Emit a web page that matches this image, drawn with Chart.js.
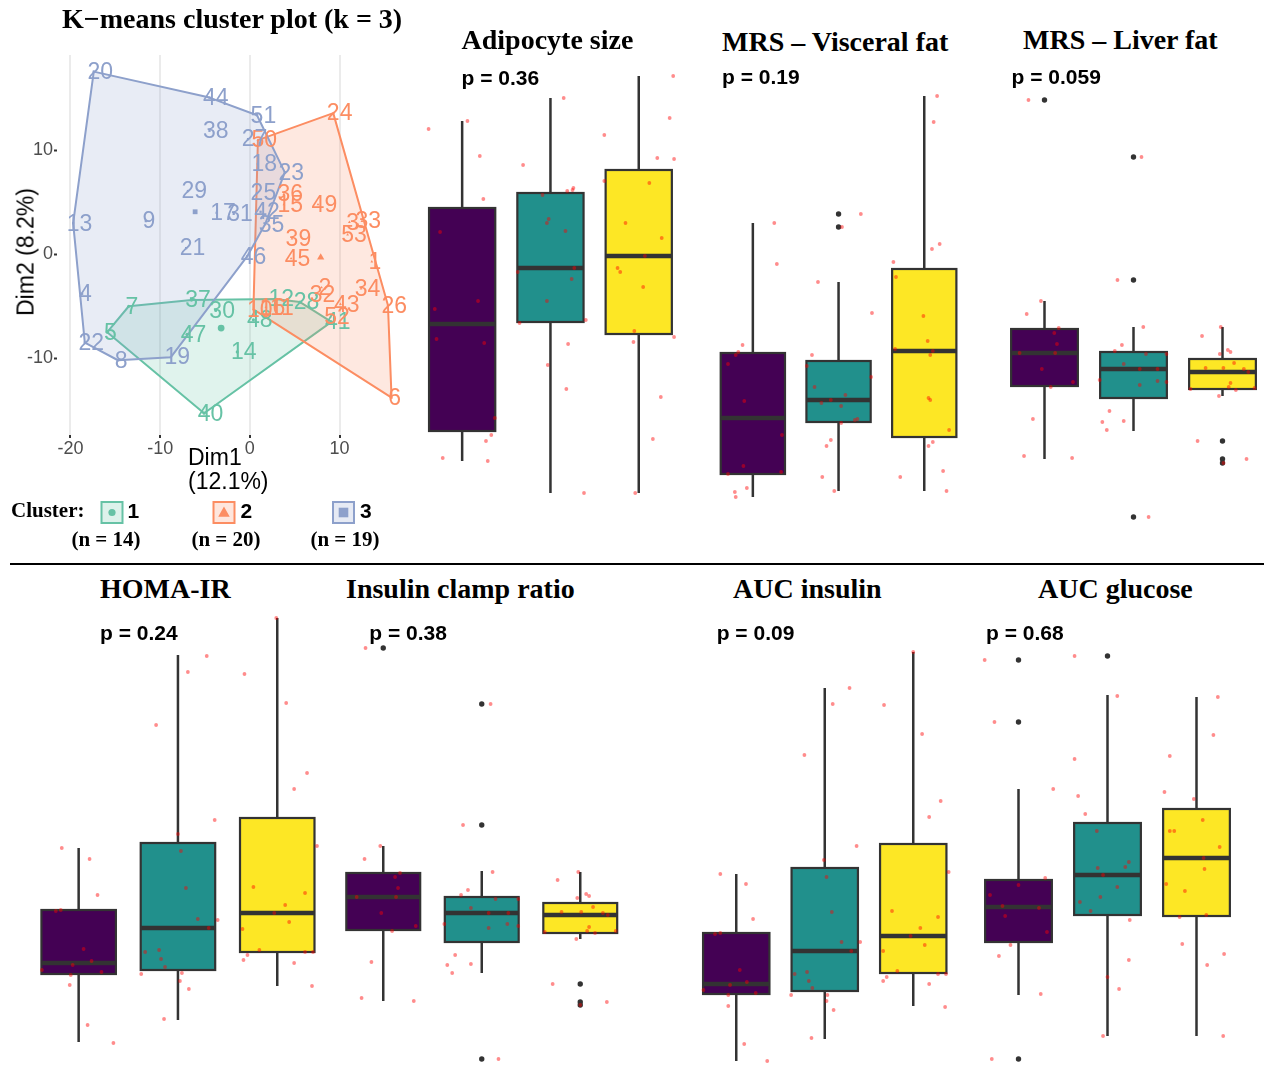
<!DOCTYPE html>
<html>
<head>
<meta charset="utf-8">
<title>K-means clusters and phenotypes</title>
<script src="https://cdn.jsdelivr.net/npm/chart.js@4.4.0/dist/chart.umd.min.js"></script>
<style>
html, body { margin: 0; padding: 0; background: #fff; }
body { position: relative; width: 1264px; height: 1082px; overflow: hidden; }
canvas { position: absolute; }
.t { position: absolute; white-space: nowrap; line-height: 1; color: #000; z-index: 2; }
.serif { font-family: "Liberation Serif", "Times New Roman", serif; font-weight: bold; }
.sans { font-family: "Liberation Sans", Arial, Helvetica, sans-serif; }
.sansb { font-family: "Liberation Sans", Arial, Helvetica, sans-serif; font-weight: bold; }
#rule { position: absolute; left: 10px; top: 563px; width: 1254px; height: 2px; background: #000; }
</style>
</head>
<body>
<div id="rule"></div>
<script>
// ---------- K-means cluster plot (Dim1 / Dim2) ----------
const clusterNames = ['1', '2', '3'];
const clusterSizes = [14, 20, 19];
const clusterColors = ['#66C2A5', '#FC8D62', '#8DA0CB'];
const clusterShapes = ['circle', 'triangle', 'rect'];

const c1Labels = ['7', '5', '37', '30', '47', '14', '40', '48', '12', '28', '41'];
const c1X = [-13.5, -15.9, -6.5, -3.8, -7.0, -1.4, -5.1, 0.4, 2.8, 5.6, 9.1];
const c1Y = [-5.0, -7.5, -4.4, -5.4, -7.7, -9.4, -15.3, -6.3, -4.3, -4.6, -6.5];

const c2Labels = ['24', '50', '36', '15', '49', '3', '33', '53', '39', '45', '1', '34', '2', '32', '43', '26', '6', '52', '10', '11', '16'];
const c2X = [9.3, 0.9, 3.8, 3.8, 7.6, 11.1, 12.5, 10.9, 4.7, 4.6, 13.6, 12.4, 8.0, 7.4, 10.1, 15.4, 15.8, 9.0, 0.4, 2.9, 1.8];
const c2Y = [13.6, 11.0, 5.8, 4.8, 4.8, 3.1, 3.2, 1.9, 1.5, -0.4, -0.7, -3.3, -3.2, -3.9, -4.8, -4.9, -13.8, -6.0, -5.3, -5.1, -5.1];

const c3Labels = ['20', '44', '38', '51', '27', '18', '23', '29', '25', '17', '31', '42', '13', '9', '35', '21', '46', '4', '22', '8', '19'];
const c3X = [-17.4, -4.5, -4.5, 0.8, -0.2, 0.9, 3.9, -6.9, 0.8, -3.7, -1.8, 1.2, -19.7, -11.6, 1.7, -7.1, -0.3, -18.7, -18.4, -14.7, -8.8];
const c3Y = [17.6, 15.1, 11.9, 13.4, 11.1, 8.7, 7.9, 6.1, 5.9, 4.0, 3.9, 4.1, 3.0, 3.2, 2.9, 0.6, -0.2, -3.8, -8.5, -10.2, -9.9];

const centroidX = [-3.2, 7.9, -6.1];
const centroidY = [-7.1, -0.3, 4.1];

const dim1Ticks = [-20, -10, 0, 10];
const dim1TickLabels = ['-20', '-10', '0', '10'];
const dim2Ticks = [-10, 0, 10];
const dim2TickLabels = ['-10', '0', '10'];

// ---------- box plots (arbitrary units, groups 1..3) ----------
const boxColors = ['#440154', '#21908C', '#FDE725'];
const boxWidth = 0.75;

const adipoLow = [3.9, 0.7, 0.7];
const adipoQ1 = [6.9, 17.8, 16.6];
const adipoMed = [17.6, 23.2, 24.4];
const adipoQ3 = [29.2, 30.7, 33.0];
const adipoHigh = [37.9, 40.2, 42.4];
const adipoOut = [[], [], []];
const adipoDots = [
  [[-0.38, 37.1], [0.06, 37.9], [0.20, 34.4], [0.24, 30.1], [-0.25, 26.8], [0.18, 19.9], [-0.31, 19.1], [-0.29, 16.1], [0.25, 15.7], [0.37, 8.2], [0.33, 6.5], [0.27, 5.9], [-0.22, 4.2], [0.29, 3.9]],
  [[0.15, 40.2], [-0.31, 33.5], [0.26, 31.2], [0.19, 30.9], [0.25, 31.0], [-0.09, 30.5], [-0.02, 28.1], [-0.04, 27.7], [0.17, 26.9], [-0.37, 22.8], [0.27, 23.2], [0.24, 22.1], [-0.04, 19.9], [-0.35, 17.7], [0.40, 18.0], [0.20, 15.6], [-0.03, 13.5], [0.18, 11.1], [0.38, 0.7]],
  [[0.39, 42.4], [0.35, 38.2], [0.21, 34.2], [0.40, 34.1], [-0.39, 36.5], [-0.39, 31.9], [0.12, 31.7], [-0.15, 27.7], [0.26, 26.2], [0.07, 24.4], [-0.24, 23.2], [-0.21, 22.8], [0.05, 21.3], [-0.05, 16.9], [-0.06, 15.8], [0.40, 16.3], [0.25, 10.3], [0.16, 6.1], [-0.04, 0.7]]
];

const viscLow = [0.3, 0.9, 0.9];
const viscQ1 = [2.6, 7.8, 6.3];
const viscMed = [8.2, 10.0, 14.9];
const viscQ3 = [14.7, 13.9, 23.1];
const viscHigh = [27.7, 21.8, 40.4];
const viscOut = [[], [28.6, 27.3], []];
const viscDots = [
  [[0.25, 27.7], [0.28, 23.6], [-0.12, 15.5], [-0.17, 14.8], [-0.2, 14.5], [-0.29, 13.6], [-0.1, 9.9], [0.34, 6.5], [-0.11, 3.4], [0.33, 2.8], [-0.29, 2.6], [-0.07, 1.2], [-0.21, 0.8], [-0.2, 0.3]],
  [[0.26, 28.6], [0.04, 27.3], [-0.24, 21.8], [0.39, 18.7], [-0.31, 14.5], [-0.37, 13.4], [0.38, 12.3], [-0.28, 11.3], [0.08, 10.5], [-0.09, 10.0], [-0.2, 9.7], [0.03, 9.4], [0.22, 8.1], [0.19, 8.0], [0.03, 7.7], [-0.09, 6.0], [-0.14, 5.4], [-0.19, 2.3], [-0.05, 0.9]],
  [[0.15, 40.4], [0.11, 37.8], [0.18, 25.6], [0.09, 25.1], [-0.36, 23.8], [-0.33, 22.3], [-0.01, 18.4], [0.04, 15.9], [-0.34, 15.1], [0.1, 14.9], [0.07, 14.5], [0.05, 10.2], [0.07, 10.0], [0.29, 7.0], [0.1, 5.8], [0.05, 5.4], [-0.28, 2.3], [0.22, 2.9], [0.26, 0.9]]
];

const liverLow = [4.1, 6.9, 10.4];
const liverQ1 = [11.4, 10.2, 11.1];
const liverMed = [14.7, 13.1, 12.8];
const liverQ3 = [17.1, 14.8, 14.1];
const liverHigh = [19.9, 17.3, 17.3];
const liverOut = [[40.0], [34.3, 22.0, -1.7], [5.9, 4.1, 3.7]];
const liverDots = [
  [[-0.18, 40.0], [-0.04, 19.9], [-0.2, 18.6], [0.16, 17.2], [0.11, 16.7], [0.14, 15.6], [-0.28, 14.7], [0.12, 14.7], [-0.03, 13.1], [0.32, 11.8], [0.07, 11.3], [-0.13, 8.1], [-0.23, 4.4], [0.31, 4.2]],
  [[0.09, 34.3], [-0.18, 22.0], [0.11, 17.3], [-0.13, 15.5], [-0.21, 14.9], [0.14, 14.6], [0.37, 14.6], [-0.11, 13.6], [0.07, 13.1], [0.27, 13.1], [-0.38, 12.0], [0.27, 11.9], [0.37, 11.8], [0.07, 11.5], [-0.27, 8.9], [-0.35, 7.8], [-0.11, 7.9], [-0.3, 7.0], [0.17, -1.7]],
  [[-0.02, 17.3], [-0.23, 16.4], [0.06, 15.0], [0.09, 14.8], [-0.03, 14.6], [0.13, 13.7], [-0.19, 13.2], [0.01, 13.2], [0.24, 13.1], [0.29, 12.8], [0.09, 11.7], [0.07, 11.3], [-0.36, 11.1], [0.15, 11.0], [0.36, 11.2], [-0.04, 10.4], [-0.28, 5.9], [0.01, 3.7], [0.27, 4.1]]
];

const homaLow = [2.8, 5.0, 8.4];
const homaQ1 = [9.6, 10.0, 11.8];
const homaMed = [10.7, 14.2, 15.7];
const homaQ3 = [16.0, 22.7, 25.2];
const homaHigh = [22.2, 41.5, 45.2];
const homaOut = [[], [], []];
const homaDots = [
  [[-0.17, 22.2], [0.11, 21.1], [0.19, 17.5], [-0.23, 15.9], [-0.18, 16.0], [0.05, 12.1], [0.13, 10.9], [-0.06, 10.5], [-0.37, 10.0], [0.23, 9.8], [-0.08, 9.5], [-0.09, 8.5], [0.09, 4.5], [0.35, 2.7]],
  [[0.29, 41.4], [0.1, 39.8], [-0.22, 34.5], [0.37, 25.0], [0, 23.6], [0.03, 21.9], [0.08, 18.2], [0.2, 15.1], [0.4, 15.0], [0.31, 14.2], [-0.33, 11.8], [-0.19, 12.0], [-0.17, 11.1], [-0.13, 10.3], [-0.37, 9.6], [0.04, 9.7], [0.02, 8.9], [0.11, 8.1], [-0.14, 5.1]],
  [[-0.01, 45.2], [-0.33, 39.6], [0.09, 36.7], [0.3, 29.7], [0.17, 28.1], [0.4, 22.4], [-0.24, 18.3], [0.28, 17.7], [0.08, 16.5], [-0.03, 15.7], [0.12, 14.8], [-0.35, 14.1], [-0.18, 12.0], [0.28, 11.8], [0.36, 11.8], [-0.3, 11.5], [-0.34, 11.0], [0.17, 10.7], [0.35, 8.4]]
];

const clampLow = [6.9, 9.7, 13.1];
const clampQ1 = [14.0, 12.8, 13.7];
const clampMed = [17.3, 15.7, 15.5];
const clampQ3 = [19.7, 17.3, 16.7];
const clampHigh = [22.4, 19.9, 19.8];
const clampOut = [[42.2], [36.6, 24.5, 1.1], [8.6, 6.8, 6.5]];
const clampDots = [
  [[-0.18, 42.2], [-0.03, 22.4], [-0.19, 21.1], [0.17, 19.7], [0.12, 19.3], [0.15, 18.2], [-0.27, 17.3], [0.13, 17.3], [-0.02, 15.7], [0.33, 14.4], [0.09, 13.9], [-0.12, 10.8], [-0.22, 7.2], [0.31, 6.9]],
  [[0.09, 36.6], [-0.19, 24.5], [0.11, 19.8], [-0.14, 18.0], [-0.21, 17.5], [0.14, 17.1], [0.37, 17.1], [-0.11, 16.2], [0.07, 15.7], [0.27, 15.7], [-0.38, 14.6], [0.26, 14.6], [0.37, 14.4], [0.07, 14.2], [-0.27, 11.5], [-0.35, 10.5], [-0.11, 10.6], [-0.3, 9.7], [0.17, 1.1]],
  [[-0.02, 19.8], [-0.23, 19.0], [0.06, 17.6], [0.09, 17.4], [-0.03, 17.2], [0.13, 16.3], [-0.19, 15.8], [0.01, 15.8], [0.23, 15.7], [0.28, 15.5], [0.09, 14.3], [0.07, 13.9], [-0.36, 13.8], [0.15, 13.7], [0.36, 13.9], [-0.04, 13.1], [-0.28, 8.6], [0, 6.5], [0.27, 6.8]]
];

const aucInsLow = [0.9, 3.1, 6.4];
const aucInsQ1 = [7.6, 7.9, 9.7];
const aucInsMed = [8.6, 11.9, 13.4];
const aucInsQ3 = [13.7, 20.2, 22.6];
const aucInsHigh = [19.6, 38.2, 41.8];
const aucInsOut = [[], [], []];
const aucInsDots = [
  [[-0.18, 19.6], [0.11, 18.6], [0.19, 15.1], [-0.24, 13.6], [-0.18, 13.7], [0.04, 10.0], [0.12, 8.8], [-0.07, 8.5], [-0.37, 8.0], [0.22, 7.7], [-0.09, 7.5], [-0.09, 6.4], [0.09, 2.6], [0.35, 0.9]],
  [[0.28, 38.2], [0.09, 36.6], [-0.23, 31.5], [0.36, 22.4], [-0.01, 21.0], [0.02, 19.3], [0.08, 15.8], [0.19, 12.8], [0.4, 12.8], [0.3, 11.9], [-0.34, 9.6], [-0.2, 9.8], [-0.18, 8.9], [-0.14, 8.2], [-0.38, 7.5], [0.03, 7.5], [0.02, 6.9], [0.1, 6.0], [-0.15, 3.2]],
  [[0, 41.8], [-0.33, 36.5], [0.1, 33.6], [0.31, 26.9], [0.18, 25.3], [0.4, 19.8], [-0.24, 15.9], [0.28, 15.3], [0.08, 14.2], [-0.03, 13.4], [0.13, 12.5], [-0.34, 11.9], [-0.18, 9.9], [-0.3, 9.3], [-0.34, 8.9], [0.28, 9.6], [0.37, 9.6], [0.18, 8.6], [0.36, 6.3]]
];

const aucGluLow = [7.5, 3.4, 3.4];
const aucGluQ1 = [12.8, 15.5, 15.4];
const aucGluMed = [16.3, 19.5, 21.2];
const aucGluQ3 = [19.0, 24.7, 26.1];
const aucGluHigh = [28.1, 37.5, 37.3];
const aucGluOut = [[41.0, 34.8, 1.1], [41.4], []];
const aucGluDots = [
  [[-0.38, 41.0], [-0.27, 34.8], [0.39, 28.1], [0.3, 19.2], [0, 18.5], [-0.32, 17.5], [-0.18, 16.4], [0.23, 16.2], [-0.15, 15.4], [0.32, 13.8], [-0.09, 12.5], [-0.22, 11.4], [0.25, 7.6], [-0.3, 1.1]],
  [[-0.37, 41.4], [0.11, 37.4], [-0.37, 31.1], [-0.33, 27.4], [-0.25, 25.6], [-0.12, 23.9], [-0.11, 20.2], [0.24, 20.8], [0.2, 20.3], [-0.05, 19.5], [0.11, 18.3], [-0.08, 17.3], [-0.31, 16.8], [-0.19, 15.9], [0.25, 15.0], [0.24, 11.0], [0, 9.3], [0.13, 8.1], [-0.05, 3.4]],
  [[0.24, 37.3], [0.19, 33.5], [-0.3, 31.4], [-0.36, 27.8], [-0.03, 27.1], [0.07, 25.0], [-0.3, 23.9], [-0.25, 23.9], [0.26, 22.3], [0.08, 21.2], [0.09, 20.1], [-0.34, 18.6], [-0.13, 17.9], [-0.19, 15.3], [0.11, 15.5], [-0.16, 12.6], [0.31, 11.6], [0.12, 10.5], [0.3, 3.4]]
];

const panels = [
  { title: 'Adipocyte size', p: 'p = 0.36', low: adipoLow, q1: adipoQ1, med: adipoMed, q3: adipoQ3, high: adipoHigh, out: adipoOut, dots: adipoDots },
  { title: 'MRS \u2013 Visceral fat', p: 'p = 0.19', low: viscLow, q1: viscQ1, med: viscMed, q3: viscQ3, high: viscHigh, out: viscOut, dots: viscDots },
  { title: 'MRS \u2013 Liver fat', p: 'p = 0.059', low: liverLow, q1: liverQ1, med: liverMed, q3: liverQ3, high: liverHigh, out: liverOut, dots: liverDots },
  { title: 'HOMA-IR', p: 'p = 0.24', low: homaLow, q1: homaQ1, med: homaMed, q3: homaQ3, high: homaHigh, out: homaOut, dots: homaDots },
  { title: 'Insulin clamp ratio', p: 'p = 0.38', low: clampLow, q1: clampQ1, med: clampMed, q3: clampQ3, high: clampHigh, out: clampOut, dots: clampDots },
  { title: 'AUC insulin', p: 'p = 0.09', low: aucInsLow, q1: aucInsQ1, med: aucInsMed, q3: aucInsQ3, high: aucInsHigh, out: aucInsOut, dots: aucInsDots },
  { title: 'AUC glucose', p: 'p = 0.68', low: aucGluLow, q1: aucGluQ1, med: aucGluMed, q3: aucGluQ3, high: aucGluHigh, out: aucGluOut, dots: aucGluDots }
];

// where each panel sits on the page
const panelBoxes = [
  { left: 418, top: 60, h: 470, step: 88.3, yMin: -3, yMax: 44, tx: 461.5, tb: 50, px: 461.5, pb: 85 },
  { left: 710, top: 60, h: 470, step: 85.7, yMin: -3, yMax: 44, tx: 722, tb: 51.5, px: 722, pb: 83.5 },
  { left: 1000, top: 60, h: 470, step: 89, yMin: -3, yMax: 44, tx: 1023, tb: 50, px: 1011.5, pb: 83.5 },
  { left: 29, top: 610, h: 460, step: 99.3, yMin: 0, yMax: 46, tx: 100, tb: 599, px: 100, pb: 640 },
  { left: 334, top: 610, h: 460, step: 98.5, yMin: 0, yMax: 46, tx: 346, tb: 599, px: 369.3, pb: 640 },
  { left: 692, top: 610, h: 460, step: 88.5, yMin: 0, yMax: 46, tx: 733, tb: 599, px: 716.7, pb: 640 },
  { left: 974, top: 610, h: 460, step: 89, yMin: 0, yMax: 46, tx: 1038, tb: 599, px: 986, pb: 640 }
];

const SANS = '"Liberation Sans", Arial, Helvetica, sans-serif';

function addText(str, x, base, size, cls, align) {
  const d = document.createElement('div');
  d.className = 't ' + cls;
  d.textContent = str;
  d.style.fontSize = size + 'px';
  d.style.left = x + 'px';
  d.style.top = (base - 0.84 * size) + 'px';
  if (align === 'center') d.style.transform = 'translateX(-50%)';
  document.body.appendChild(d);
  return d;
}

function rgba(hex, a) {
  const n = parseInt(hex.slice(1), 16);
  return `rgba(${n >> 16}, ${(n >> 8) & 255}, ${n & 255}, ${a})`;
}

function convexHull(pts) {
  const p = pts.slice().sort((a, b) => a.x - b.x || a.y - b.y);
  const cross = (o, a, b) => (a.x - o.x) * (b.y - o.y) - (a.y - o.y) * (b.x - o.x);
  const lower = [], upper = [];
  for (const q of p) {
    while (lower.length >= 2 && cross(lower[lower.length - 2], lower[lower.length - 1], q) <= 0) lower.pop();
    lower.push(q);
  }
  for (const q of p.slice().reverse()) {
    while (upper.length >= 2 && cross(upper[upper.length - 2], upper[upper.length - 1], q) <= 0) upper.pop();
    upper.push(q);
  }
  return lower.slice(0, -1).concat(upper.slice(0, -1));
}

function drawShape(ctx, shape, x, y, r) {
  ctx.beginPath();
  if (shape === 'circle') {
    ctx.arc(x, y, r, 0, Math.PI * 2);
  } else if (shape === 'triangle') {
    ctx.moveTo(x, y - r * 1.1);
    ctx.lineTo(x + r * 1.05, y + r * 0.75);
    ctx.lineTo(x - r * 1.05, y + r * 0.75);
    ctx.closePath();
  } else {
    ctx.rect(x - r, y - r, 2 * r, 2 * r);
  }
  ctx.fill();
}

// ---------- cluster scatter ----------
function makeClusterChart() {
  const cv = document.createElement('canvas');
  cv.width = 420; cv.height = 560;
  cv.style.left = '0px'; cv.style.top = '0px';
  document.body.appendChild(cv);

  const groups = [
    { labels: c1Labels, xs: c1X, ys: c1Y },
    { labels: c2Labels, xs: c2X, ys: c2Y },
    { labels: c3Labels, xs: c3X, ys: c3Y }
  ];

  const datasets = [];
  groups.forEach((g, i) => {
    datasets.push({
      data: g.xs.map((v, j) => ({ x: v, y: g.ys[j] })),
      pointStyle: clusterShapes[i], pointRadius: 1.6,
      backgroundColor: clusterColors[i], borderWidth: 0, clip: false
    });
  });
  groups.forEach((g, i) => {
    datasets.push({
      data: [{ x: centroidX[i], y: centroidY[i] }],
      pointStyle: clusterShapes[i], pointRadius: i === 1 ? 4.2 : 3.4,
      backgroundColor: clusterColors[i], borderWidth: 0, clip: false
    });
  });

  const clusterPlugin = {
    id: 'clusterHulls',
    beforeDatasetsDraw(chart) {
      const ctx = chart.ctx;
      ctx.save();
      groups.forEach((g, i) => {
        const pts = chart.getDatasetMeta(i).data.map(el => ({ x: el.x, y: el.y }));
        const h = convexHull(pts);
        ctx.beginPath();
        h.forEach((q, k) => k ? ctx.lineTo(q.x, q.y) : ctx.moveTo(q.x, q.y));
        ctx.closePath();
        ctx.fillStyle = rgba(clusterColors[i], 0.2);
        ctx.fill();
        ctx.strokeStyle = clusterColors[i];
        ctx.lineWidth = 2;
        ctx.lineJoin = 'round';
        ctx.stroke();
      });
      ctx.restore();
    },
    afterDatasetsDraw(chart) {
      const ctx = chart.ctx;
      ctx.save();
      ctx.font = '23px ' + SANS;
      ctx.textBaseline = 'middle';
      ctx.textAlign = 'left';
      groups.forEach((g, i) => {
        ctx.fillStyle = clusterColors[i];
        chart.getDatasetMeta(i).data.forEach((el, j) => {
          const w = ctx.measureText(g.labels[j]).width;
          ctx.fillText(g.labels[j], el.x - 0.25 * w, el.y + 1);
        });
      });
      // legend keys
      const keyX = [101.5, 213.5, 333];
      keyX.forEach((kx, i) => {
        ctx.fillStyle = rgba(clusterColors[i], 0.22);
        ctx.fillRect(kx, 502, 21, 21);
        ctx.strokeStyle = clusterColors[i];
        ctx.lineWidth = 2;
        ctx.strokeRect(kx, 502, 21, 21);
        ctx.fillStyle = clusterColors[i];
        drawShape(ctx, clusterShapes[i], kx + 10.5, 512.5, i === 0 ? 3.6 : (i === 1 ? 5.5 : 4.8));
      });
      ctx.restore();
    }
  };

  const tickFont = { size: 18, family: SANS };
  new Chart(cv, {
    type: 'scatter',
    data: { datasets },
    plugins: [clusterPlugin],
    options: {
      responsive: false,
      animation: false,
      events: [],
      layout: { autoPadding: false, padding: { left: 0, top: 55, right: 15, bottom: 100 } },
      plugins: { legend: { display: false }, tooltip: { enabled: false } },
      scales: {
        x: {
          type: 'linear', min: -21.5, max: 17.3,
          afterBuildTicks: s => { s.ticks = dim1Ticks.map(v => ({ value: v })); },
          afterFit: s => { s.height = 25; },
          grid: { color: '#EBEBEB', lineWidth: 2, tickColor: '#333', tickWidth: 2, tickLength: 3 },
          border: { display: false },
          ticks: { color: '#4D4D4D', font: tickFont, padding: 0, maxRotation: 0,
                   callback: v => dim1TickLabels[dim1Ticks.indexOf(v)] }
        },
        y: {
          type: 'linear', min: -17.4, max: 19.2,
          afterBuildTicks: s => { s.ticks = dim2Ticks.map(v => ({ value: v })); },
          afterFit: s => { s.width = 57; },
          grid: { drawOnChartArea: false, tickColor: '#333', tickWidth: 2, tickLength: 3 },
          border: { display: false },
          ticks: { color: '#4D4D4D', font: tickFont, padding: 1,
                   callback: v => dim2TickLabels[dim2Ticks.indexOf(v)] }
        }
      }
    }
  });
}

// ---------- box plots ----------
function drawBoxes(chart, s) {
  const { ctx } = chart;
  const x = chart.scales.x, y = chart.scales.y;
  const half = x.getPixelForValue(1 + boxWidth / 2) - x.getPixelForValue(1);
  ctx.save();
  ctx.strokeStyle = '#333333';
  s.med.forEach((m, i) => {
    const cx = x.getPixelForValue(i + 1);
    const yl = y.getPixelForValue(s.low[i]);
    const y1 = y.getPixelForValue(s.q1[i]);
    const ym = y.getPixelForValue(m);
    const y3 = y.getPixelForValue(s.q3[i]);
    const yh = y.getPixelForValue(s.high[i]);
    ctx.lineWidth = 2.5;
    ctx.beginPath();
    ctx.moveTo(cx, yh); ctx.lineTo(cx, y3);
    ctx.moveTo(cx, y1); ctx.lineTo(cx, yl);
    ctx.stroke();
    ctx.fillStyle = boxColors[i];
    ctx.fillRect(cx - half, y3, 2 * half, y1 - y3);
    ctx.lineWidth = 2.2;
    ctx.strokeRect(cx - half, y3, 2 * half, y1 - y3);
    ctx.lineWidth = 4.5;
    ctx.beginPath();
    ctx.moveTo(cx - half, ym); ctx.lineTo(cx + half, ym);
    ctx.stroke();
  });
  ctx.restore();
}

function makeBoxChart(panel, box) {
  const cv = document.createElement('canvas');
  cv.width = Math.round(3 * box.step);
  cv.height = box.h;
  cv.style.left = box.left + 'px';
  cv.style.top = box.top + 'px';
  document.body.appendChild(cv);

  const jitter = [];
  panel.dots.forEach((grp, g) => grp.forEach(([dx, v]) => jitter.push({ x: g + 1 + dx, y: v })));
  const outliers = [];
  panel.out.forEach((grp, g) => grp.forEach(v => outliers.push({ x: g + 1, y: v })));

  new Chart(cv, {
    type: 'scatter',
    data: {
      datasets: [
        { data: jitter, pointRadius: 1.9, backgroundColor: 'rgba(255, 0, 0, 0.45)', borderWidth: 0, clip: false },
        { data: outliers, pointRadius: 2.7, backgroundColor: '#333333', borderWidth: 0, clip: false }
      ]
    },
    plugins: [{ id: 'boxes', beforeDatasetsDraw: chart => drawBoxes(chart, panel) }],
    options: {
      responsive: false,
      animation: false,
      events: [],
      layout: { autoPadding: false, padding: 0 },
      plugins: { legend: { display: false }, tooltip: { enabled: false } },
      scales: {
        x: { type: 'linear', display: false, min: 0.5, max: 0.5 + cv.width / box.step },
        y: { type: 'linear', display: false, min: box.yMin, max: box.yMax }
      }
    }
  });

  addText(panel.title, box.tx, box.tb, 28, 'serif');
  addText(panel.p, box.px, box.pb, 21, 'sansb');
}

makeClusterChart();
panels.forEach((p, i) => makeBoxChart(p, panelBoxes[i]));

// cluster plot texts
addText('K\u2212means cluster plot (k = 3)', 62, 28.5, 28, 'serif');
addText('Dim1', 188, 465, 23, 'sans');
addText('(12.1%)', 188, 489, 23, 'sans');
const dim2 = addText('Dim2 (8.2%)', 25.5, 251.5, 23, 'sans');
dim2.style.top = '251.5px';
dim2.style.transform = 'translate(-50%, -50%) rotate(-90deg)';

addText('Cluster:', 11, 518, 21, 'serif');
const keyTextX = [127.5, 240.5, 360];
const sizeTextX = [106, 226, 345];
clusterNames.forEach((n, i) => {
  addText(n, keyTextX[i], 518, 21, 'sansb');
  addText('(n = ' + clusterSizes[i] + ')', sizeTextX[i], 546.5, 21, 'serif', 'center');
});
</script>
</body>
</html>
